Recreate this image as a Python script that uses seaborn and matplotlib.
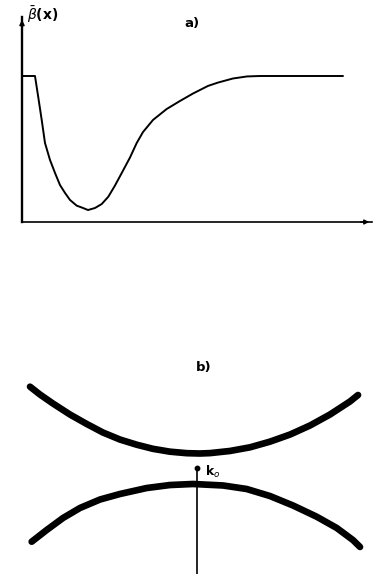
import matplotlib
matplotlib.use("Agg")
import matplotlib.pyplot as plt
import seaborn as sns
import pandas as pd

sns.set_style("white")
plt.rcParams["font.family"] = ["DejaVu Sans"]
plt.rcParams["text.color"] = "black"

# Panel a: averaged beta(x) profile
beta_x = [0.0, 0.371, 0.466, 0.563, 0.657, 0.8, 0.943, 1.086, 1.229, 1.371,
          1.563, 1.743, 1.886, 2.086, 2.277, 2.466, 2.657, 2.857, 3.086,
          3.277, 3.457, 3.743, 4.134, 4.514, 4.886, 5.314, 5.6, 6.029,
          6.429, 6.8, 9.171]
beta_y = [1.0, 1.0, 0.853, 0.699, 0.541, 0.425, 0.336, 0.253, 0.199, 0.151,
          0.112, 0.096, 0.082, 0.096, 0.123, 0.173, 0.25, 0.339, 0.442,
          0.541, 0.616, 0.699, 0.774, 0.829, 0.880, 0.932, 0.955, 0.983,
          0.997, 1.0, 1.0]

# Panel b: the two band curves and the k0 marker
upper_x = [-1.012, -0.952, -0.873, -0.770, -0.668, -0.570, -0.467, -0.365,
           -0.267, -0.164, -0.062, 0.018, 0.079, 0.2, 0.321, 0.442, 0.564,
           0.685, 0.806, 0.927, 0.976]
upper_y = [1.251, 1.131, 0.992, 0.823, 0.677, 0.546, 0.438, 0.358, 0.295,
           0.251, 0.228, 0.223, 0.229, 0.262, 0.318, 0.405, 0.515, 0.654,
           0.823, 1.023, 1.123]
lower_x = [-1.002, -0.911, -0.812, -0.709, -0.588, -0.467, -0.305, -0.164,
           -0.024, 0.158, 0.301, 0.442, 0.582, 0.725, 0.847, 0.945, 0.988]
lower_y = [-1.134, -0.954, -0.769, -0.615, -0.485, -0.4, -0.308, -0.262,
           -0.246, -0.269, -0.323, -0.431, -0.577, -0.749, -0.923, -1.108,
           -1.215]
k0_x = [0.0, 0.0]
k0_y = [0.0, -1.63]

W, H = 377, 574
fig = plt.figure(figsize=(W / 100, H / 100), dpi=100)
fig.patch.set_facecolor("white")

# ---- panel a ----
ax1 = fig.add_axes([22 / W, 1 - 222 / H, 350 / W, 205 / H])
sns.lineplot(data=pd.DataFrame({"x": beta_x, "y": beta_y}), x="x", y="y",
             sort=False, color="black", linewidth=1.4, ax=ax1, estimator=None)
ax1.set_xlim(0, 10)
ax1.set_ylim(0, 205 / 146)
ax1.set_xticks([])
ax1.set_yticks([])
ax1.set_xlabel("")
ax1.set_ylabel("")
for s in ("top", "right"):
    ax1.spines[s].set_visible(False)
ax1.spines["left"].set_linewidth(1.7)
ax1.spines["bottom"].set_linewidth(1.2)
for s in ("left", "bottom"):
    ax1.spines[s].set_color("black")
ax1.annotate("", xy=(0, 1.0), xycoords="axes fraction", xytext=(0, 0.95),
             arrowprops=dict(arrowstyle="-|>", color="black", lw=1.2,
                             mutation_scale=7))
ax1.annotate("", xy=(1.0, 0), xycoords="axes fraction", xytext=(0.96, 0),
             arrowprops=dict(arrowstyle="-|>", color="black", lw=1.0,
                             mutation_scale=7))
fig.text(27 / W, 1 - 15 / H, r"$\bar{\beta}$(x)", fontsize=10,
         fontweight="bold", va="center", ha="left", color="black")
fig.text(192 / W, 1 - 24 / H, "a)", fontsize=9.5, fontweight="bold",
         va="center", ha="center", color="black")

# ---- panel b ----
ax2 = fig.add_axes([0, 0, 1, 234 / H])
ax2.set_xlim(-197 / 165, 180 / 165)
ax2.set_ylim(-106 / 65, 128 / 65)
sns.lineplot(data=pd.DataFrame({"x": upper_x, "y": upper_y}), x="x", y="y",
             sort=False, color="black", linewidth=4.8, ax=ax2, estimator=None,
             solid_capstyle="round", solid_joinstyle="round")
sns.lineplot(data=pd.DataFrame({"x": lower_x, "y": lower_y}), x="x", y="y",
             sort=False, color="black", linewidth=4.8, ax=ax2, estimator=None,
             solid_capstyle="round", solid_joinstyle="round")
sns.lineplot(data=pd.DataFrame({"x": k0_x, "y": k0_y}), x="x", y="y",
             sort=False, color="black", linewidth=1.2, ax=ax2, estimator=None)
ax2.plot(k0_x[:1], k0_y[:1], "o", color="black", markersize=3.2)
ax2.text(0.05, -0.06, r"k$_o$", fontsize=9, fontweight="bold",
         va="center", ha="left", color="black")
ax2.axis("off")
fig.text(204 / W, 1 - 367 / H, "b)", fontsize=9.5, fontweight="bold",
         va="center", ha="center", color="black")

fig.savefig("out.png", dpi=100, facecolor="white")
